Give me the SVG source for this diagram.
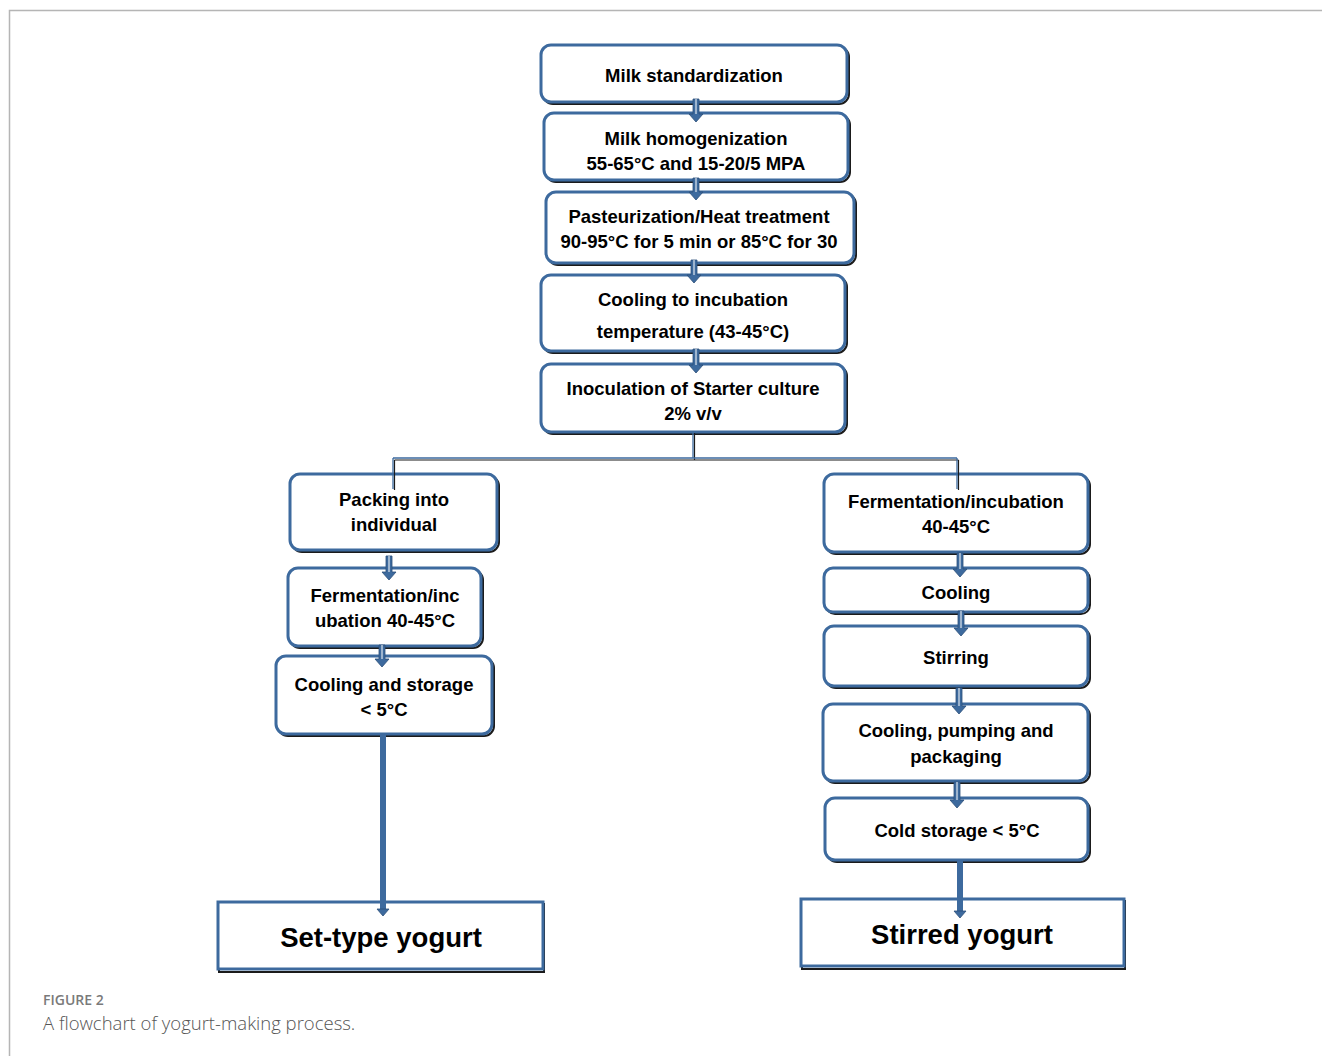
<svg xmlns="http://www.w3.org/2000/svg" width="1322" height="1056" viewBox="0 0 1322 1056">
<style>
.bg{fill:#ffffff}
.frame{stroke:#b5b5b5;stroke-width:1.5;fill:none}
.sh{fill:none;stroke:#1b1b1b;stroke-width:2}
.bx{fill:#ffffff;stroke:#3d6a9e;stroke-width:3}
.t{font-family:"Liberation Sans",Arial,sans-serif;font-weight:700;font-size:18.5px;fill:#000;text-anchor:middle}
.big{font-family:"Liberation Sans",Arial,sans-serif;font-weight:700;font-size:27.5px;fill:#000;text-anchor:middle}
.ar{fill:#3d6a9e;stroke:#2c4f78;stroke-width:0.8}
.arc{stroke:#ffffff;stroke-width:1}
.thin{stroke:#3d6a9e;stroke-width:1.3;fill:none}
.thinsh{stroke:#1b1b1b;stroke-width:1.2;fill:none}
.thick{stroke:#3d6a9e;stroke-width:6;fill:none}
.cap1{font-family:"Open Sans","Liberation Sans",sans-serif;font-size:14px;font-weight:600;fill:#7a7a7a}
.cap2{font-family:"Open Sans","Liberation Sans",sans-serif;font-size:18.5px;fill:#555;font-weight:300}
</style>
<rect class="bg" x="0" y="0" width="1322" height="1056"/>
<path class="frame" d="M9.5 1056 V10.5 H1322"/>

<g id="n1"><rect class="sh" x="543" y="47" width="306" height="57" rx="10"/><rect class="bx" x="541" y="45" width="306" height="57" rx="10"/><text class="t" x="694" y="82">Milk standardization</text></g>
<g id="n2"><rect class="sh" x="546" y="115" width="304" height="67" rx="10"/><rect class="bx" x="544" y="113" width="304" height="67" rx="10"/><text class="t" x="696" y="145">Milk homogenization</text><text class="t" x="696" y="170">55-65°C and 15-20/5 MPA</text></g>
<g id="n3"><rect class="sh" x="548" y="194" width="308" height="71" rx="10"/><rect class="bx" x="546" y="192" width="308" height="71" rx="10"/><text class="t" x="699" y="223">Pasteurization/Heat treatment</text><text class="t" x="699" y="248">90-95°C for 5 min or 85°C for 30</text></g>
<g id="n4"><rect class="sh" x="543" y="277" width="304" height="76" rx="10"/><rect class="bx" x="541" y="275" width="304" height="76" rx="10"/><text class="t" x="693" y="306">Cooling to incubation</text><text class="t" x="693" y="338">temperature (43-45°C)</text></g>
<g id="n5"><rect class="sh" x="543" y="366" width="304" height="68" rx="10"/><rect class="bx" x="541" y="364" width="304" height="68" rx="10"/><text class="t" x="693" y="395">Inoculation of Starter culture</text><text class="t" x="693" y="420">2% v/v</text></g>

<g id="n6"><rect class="sh" x="292" y="476" width="207" height="76" rx="10"/><rect class="bx" x="290" y="474" width="207" height="76" rx="10"/><text class="t" x="394" y="506">Packing into</text><text class="t" x="394" y="531">individual</text></g>
<g id="n7"><rect class="sh" x="290" y="570" width="193" height="78" rx="10"/><rect class="bx" x="288" y="568" width="193" height="78" rx="10"/><text class="t" x="385" y="602">Fermentation/inc</text><text class="t" x="385" y="627">ubation 40-45°C</text></g>
<g id="n8"><rect class="sh" x="278" y="658" width="216" height="78" rx="10"/><rect class="bx" x="276" y="656" width="216" height="78" rx="10"/><text class="t" x="384" y="691">Cooling and storage</text><text class="t" x="384" y="716">&lt; 5°C</text></g>
<g id="n9"><rect class="sh" x="219" y="904" width="325" height="68"/><rect class="bx" x="218" y="902" width="325" height="67"/><text class="big" x="381" y="947">Set-type yogurt</text></g>

<g id="n10"><rect class="sh" x="826" y="476" width="264" height="78" rx="10"/><rect class="bx" x="824" y="474" width="264" height="78" rx="10"/><text class="t" x="956" y="508">Fermentation/incubation</text><text class="t" x="956" y="533">40-45°C</text></g>
<g id="n11"><rect class="sh" x="826" y="570" width="264" height="44" rx="9"/><rect class="bx" x="824" y="568" width="264" height="44" rx="9"/><text class="t" x="956" y="599">Cooling</text></g>
<g id="n12"><rect class="sh" x="826" y="628" width="264" height="60" rx="10"/><rect class="bx" x="824" y="626" width="264" height="60" rx="10"/><text class="t" x="956" y="664">Stirring</text></g>
<g id="n13"><rect class="sh" x="825" y="706" width="265" height="77" rx="10"/><rect class="bx" x="823" y="704" width="265" height="77" rx="10"/><text class="t" x="956" y="737">Cooling, pumping and</text><text class="t" x="956" y="763">packaging</text></g>
<g id="n14"><rect class="sh" x="827" y="800" width="263" height="62" rx="10"/><rect class="bx" x="825" y="798" width="263" height="62" rx="10"/><text class="t" x="957" y="837">Cold storage &lt; 5°C</text></g>
<g id="n15"><rect class="sh" x="802" y="901" width="323" height="68"/><rect class="bx" x="801" y="899" width="323" height="67"/><text class="big" x="962" y="944">Stirred yogurt</text></g>

<g id="connectors">
<path class="thinsh" d="M694.5 433 V460 M394.5 460 H958.5 M394.5 460 V490 M958.5 460 V490"/>
<path class="thin" d="M693 433 V458 M393 458 H957 M393 458 V489 M957 458 V489"/>

<path class="ar" d="M693 99 H699 V114 H703 L696 122 L689 114 H693 Z"/><path class="arc" d="M696 99 V114"/>
<path class="ar" d="M693 178 H699 V192 H703 L696 200 L689 192 H693 Z"/><path class="arc" d="M696 178 V192"/>
<path class="ar" d="M691 260 H697 V275 H701 L694 283 L687 275 H691 Z"/><path class="arc" d="M694 260 V275"/>
<path class="ar" d="M693 349 H699 V365 H703 L696 373 L689 365 H693 Z"/><path class="arc" d="M696 349 V365"/>

<path class="ar" d="M386 556 H392 V572 H396 L389 580 L382 572 H386 Z"/><path class="arc" d="M389 556 V572"/>
<path class="ar" d="M379 645 H385 V659 H389 L382 667 L375 659 H379 Z"/><path class="arc" d="M382 645 V659"/>

<path class="ar" d="M957 553 H963 V569 H967 L960 577 L953 569 H957 Z"/><path class="arc" d="M960 553 V569"/>
<path class="ar" d="M958 611 H964 V628 H968 L961 636 L954 628 H958 Z"/><path class="arc" d="M961 611 V628"/>
<path class="ar" d="M956 688 H962 V706 H966 L959 714 L952 706 H956 Z"/><path class="arc" d="M959 688 V706"/>
<path class="ar" d="M954 782 H960 V800 H964 L957 808 L950 800 H954 Z"/><path class="arc" d="M957 782 V800"/>

<path class="thick" d="M383 733 V910"/><path class="ar" d="M377 909 H389 L383 916 Z"/>
<path class="thick" d="M960 860 V912"/><path class="ar" d="M954 911 H966 L960 918 Z"/>
</g>

<text class="cap1" x="43" y="1005">FIGURE 2</text>
<text class="cap2" x="43" y="1030">A flowchart of yogurt-making process.</text>
</svg>
